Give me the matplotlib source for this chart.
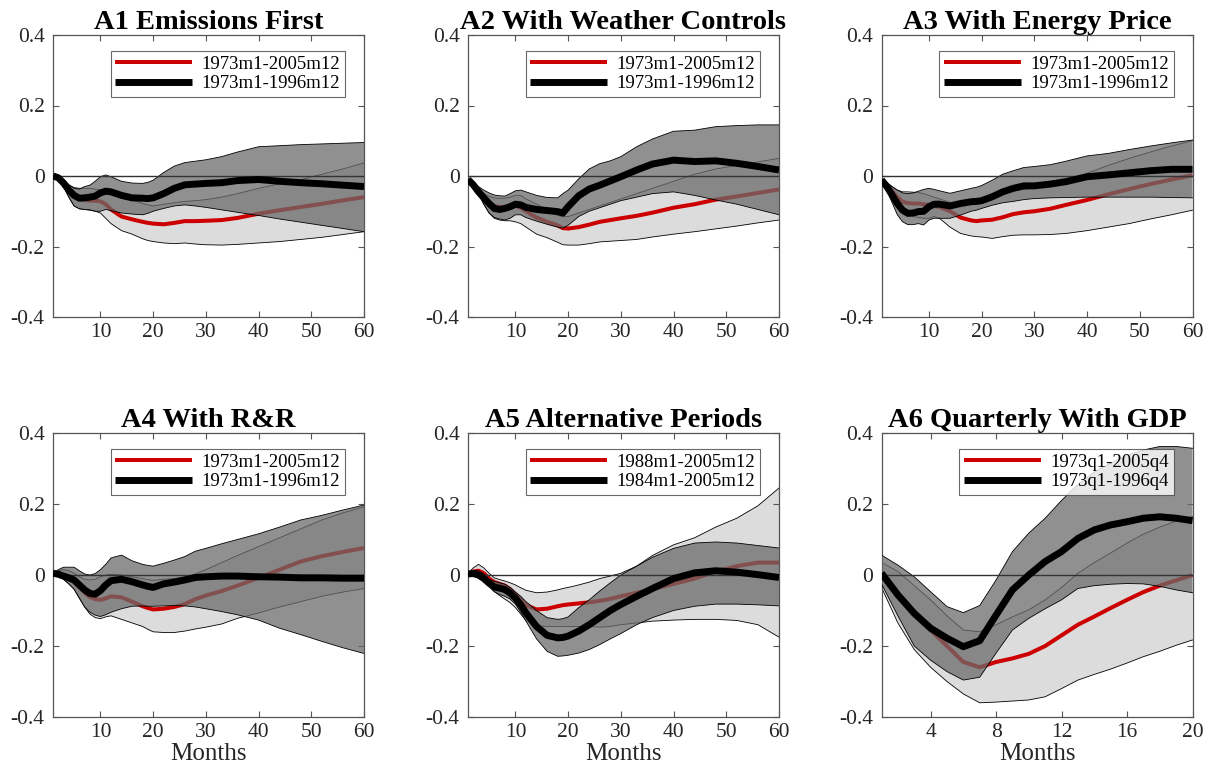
import matplotlib
matplotlib.use("Agg")
import matplotlib.pyplot as plt
from matplotlib.lines import Line2D

plt.rcParams['font.family'] = ['Liberation Serif', 'DejaVu Serif']

# ---------------- data ----------------
months = [1, 2, 3, 4, 5, 6, 7, 8, 9, 10, 11, 12, 14, 16, 18, 19, 20, 22, 24, 26,
          28, 30, 33, 36, 40, 44, 48, 52, 56, 60]
quarters = list(range(1, 21))

titles = ["A1 Emissions First", "A2 With Weather Controls", "A3 With Energy Price",
          "A4 With R&R", "A5 Alternative Periods", "A6 Quarterly With GDP"]
red_labels = ["1973m1-2005m12", "1973m1-2005m12", "1973m1-2005m12",
              "1973m1-2005m12", "1988m1-2005m12", "1973q1-2005q4"]
black_labels = ["1973m1-1996m12", "1973m1-1996m12", "1973m1-1996m12",
                "1973m1-1996m12", "1984m1-2005m12", "1973q1-1996q4"]
yticks = [-0.4, -0.2, 0, 0.2, 0.4]
ytick_labels = ["-0.4", "-0.2", "0", "0.2", "0.4"]
xticks_m = [10, 20, 30, 40, 50, 60]
xticks_q = [4, 8, 12, 16, 20]

# A1
a1_black = [0, -0.005, -0.02, -0.04, -0.055, -0.063, -0.062, -0.06, -0.057, -0.048, -0.043, -0.045, -0.055, -0.062, -0.063, -0.064, -0.062, -0.05, -0.035, -0.025, -0.023, -0.021, -0.019, -0.013, -0.01, -0.015, -0.019, -0.022, -0.026, -0.03]
a1_red = [0, -0.005, -0.02, -0.04, -0.055, -0.065, -0.068, -0.07, -0.07, -0.072, -0.08, -0.095, -0.115, -0.123, -0.13, -0.133, -0.135, -0.137, -0.133, -0.128, -0.128, -0.127, -0.125, -0.119, -0.107, -0.097, -0.088, -0.079, -0.069, -0.06]
a1_black_hi = [0, -0.002, -0.01, -0.025, -0.035, -0.037, -0.03, -0.026, -0.015, -0.002, 0.003, -0.002, -0.015, -0.02, -0.021, -0.018, -0.012, 0.01, 0.028, 0.038, 0.042, 0.046, 0.055, 0.068, 0.083, 0.086, 0.089, 0.091, 0.093, 0.095]
a1_black_lo = [0, -0.008, -0.03, -0.06, -0.085, -0.093, -0.095, -0.096, -0.1, -0.1, -0.095, -0.098, -0.105, -0.108, -0.11, -0.106, -0.1, -0.092, -0.085, -0.082, -0.085, -0.089, -0.096, -0.103, -0.112, -0.122, -0.131, -0.14, -0.149, -0.158]
a1_red_hi = [0, -0.003, -0.012, -0.025, -0.033, -0.035, -0.035, -0.035, -0.037, -0.04, -0.045, -0.05, -0.06, -0.068, -0.078, -0.082, -0.085, -0.08, -0.076, -0.072, -0.07, -0.067, -0.06, -0.05, -0.035, -0.022, -0.01, 0.005, 0.02, 0.037]
a1_red_lo = [0, -0.008, -0.03, -0.06, -0.085, -0.093, -0.095, -0.097, -0.1, -0.105, -0.12, -0.135, -0.155, -0.165, -0.178, -0.183, -0.186, -0.19, -0.192, -0.19, -0.193, -0.195, -0.196, -0.194, -0.19, -0.186, -0.18, -0.174, -0.166, -0.158]

# A2
a2_black = [-0.01, -0.025, -0.045, -0.062, -0.078, -0.092, -0.095, -0.092, -0.087, -0.08, -0.082, -0.089, -0.095, -0.098, -0.101, -0.105, -0.087, -0.056, -0.037, -0.026, -0.014, -0.002, 0.017, 0.034, 0.045, 0.041, 0.043, 0.036, 0.027, 0.017]
a2_red = [-0.01, -0.025, -0.045, -0.062, -0.075, -0.085, -0.088, -0.088, -0.088, -0.085, -0.09, -0.1, -0.118, -0.13, -0.14, -0.148, -0.149, -0.145, -0.138, -0.13, -0.125, -0.12, -0.113, -0.104, -0.09, -0.08, -0.067, -0.058, -0.048, -0.038]
a2_black_hi = [-0.01, -0.02, -0.03, -0.04, -0.048, -0.054, -0.056, -0.057, -0.05, -0.042, -0.04, -0.045, -0.055, -0.061, -0.062, -0.05, -0.04, -0.008, 0.02, 0.035, 0.043, 0.055, 0.083, 0.105, 0.127, 0.13, 0.14, 0.143, 0.145, 0.145]
a2_black_lo = [-0.01, -0.025, -0.05, -0.08, -0.105, -0.118, -0.122, -0.125, -0.12, -0.11, -0.11, -0.118, -0.128, -0.137, -0.145, -0.148, -0.14, -0.115, -0.1, -0.09, -0.08, -0.07, -0.06, -0.05, -0.045, -0.055, -0.068, -0.08, -0.095, -0.11]
a2_red_hi = [-0.01, -0.02, -0.035, -0.05, -0.058, -0.062, -0.063, -0.063, -0.06, -0.055, -0.055, -0.065, -0.08, -0.095, -0.112, -0.115, -0.115, -0.105, -0.095, -0.085, -0.075, -0.065, -0.05, -0.035, -0.015, 0.005, 0.02, 0.03, 0.04, 0.05]
a2_red_lo = [-0.01, -0.025, -0.05, -0.08, -0.105, -0.12, -0.125, -0.127, -0.127, -0.13, -0.135, -0.145, -0.165, -0.175, -0.188, -0.195, -0.196, -0.196, -0.192, -0.187, -0.185, -0.183, -0.18, -0.173, -0.165, -0.158, -0.15, -0.142, -0.133, -0.125]

# A3
a3_black = [-0.011, -0.03, -0.054, -0.078, -0.097, -0.106, -0.105, -0.101, -0.1, -0.087, -0.08, -0.08, -0.085, -0.078, -0.073, -0.072, -0.07, -0.059, -0.045, -0.035, -0.028, -0.028, -0.023, -0.016, -0.002, 0.003, 0.009, 0.015, 0.019, 0.019]
a3_red = [-0.011, -0.025, -0.042, -0.06, -0.073, -0.077, -0.078, -0.078, -0.08, -0.082, -0.085, -0.088, -0.1, -0.118, -0.126, -0.128, -0.126, -0.124, -0.117, -0.108, -0.103, -0.1, -0.093, -0.082, -0.068, -0.052, -0.037, -0.023, -0.01, 0.002]
a3_black_hi = [-0.01, -0.018, -0.03, -0.04, -0.048, -0.05, -0.048, -0.043, -0.038, -0.035, -0.038, -0.042, -0.049, -0.042, -0.035, -0.032, -0.027, -0.012, 0.005, 0.015, 0.024, 0.027, 0.032, 0.042, 0.057, 0.064, 0.075, 0.085, 0.094, 0.102]
a3_black_lo = [-0.01, -0.04, -0.075, -0.11, -0.13, -0.138, -0.138, -0.135, -0.139, -0.125, -0.12, -0.12, -0.12, -0.111, -0.1, -0.097, -0.092, -0.083, -0.076, -0.072, -0.067, -0.064, -0.062, -0.061, -0.06, -0.06, -0.06, -0.06, -0.061, -0.062]
a3_red_hi = [-0.01, -0.02, -0.03, -0.04, -0.045, -0.045, -0.046, -0.047, -0.05, -0.055, -0.06, -0.065, -0.075, -0.08, -0.072, -0.067, -0.062, -0.055, -0.048, -0.042, -0.038, -0.033, -0.025, -0.012, 0.008, 0.03, 0.05, 0.068, 0.085, 0.1]
a3_red_lo = [-0.01, -0.03, -0.055, -0.08, -0.1, -0.11, -0.115, -0.118, -0.12, -0.12, -0.115, -0.12, -0.145, -0.163, -0.17, -0.172, -0.173, -0.177, -0.172, -0.168, -0.167, -0.167, -0.166, -0.163, -0.155, -0.145, -0.135, -0.122, -0.11, -0.097]

# A4
a4_black = [0.005, 0.002, -0.003, -0.008, -0.014, -0.028, -0.042, -0.052, -0.054, -0.044, -0.028, -0.016, -0.012, -0.019, -0.028, -0.032, -0.035, -0.025, -0.02, -0.014, -0.007, -0.005, -0.003, -0.003, -0.005, -0.006, -0.008, -0.008, -0.009, -0.009]
a4_red = [0.005, 0.002, -0.005, -0.012, -0.02, -0.035, -0.05, -0.062, -0.068, -0.07, -0.066, -0.06, -0.063, -0.075, -0.088, -0.093, -0.097, -0.095, -0.09, -0.082, -0.068, -0.058, -0.045, -0.03, -0.008, 0.015, 0.038, 0.053, 0.065, 0.076]
a4_black_hi = [0.005, 0.015, 0.022, 0.022, 0.022, 0.012, 0.003, 0.0, 0.004, 0.015, 0.03, 0.048, 0.056, 0.04, 0.03, 0.027, 0.025, 0.033, 0.042, 0.052, 0.067, 0.075, 0.088, 0.1, 0.116, 0.135, 0.155, 0.168, 0.183, 0.197]
a4_black_lo = [0.005, 0.0, -0.012, -0.025, -0.04, -0.065, -0.09, -0.105, -0.113, -0.117, -0.112, -0.105, -0.095, -0.088, -0.087, -0.088, -0.088, -0.087, -0.086, -0.087, -0.09, -0.095, -0.103, -0.112, -0.127, -0.15, -0.168, -0.187, -0.205, -0.221]
a4_red_hi = [0.005, 0.012, 0.015, 0.012, 0.005, -0.005, -0.012, -0.014, -0.012, -0.005, 0.0, 0.002, 0.0, -0.005, -0.01, -0.013, -0.015, -0.012, -0.01, -0.005, 0.003, 0.015, 0.035, 0.055, 0.08, 0.105, 0.13, 0.155, 0.175, 0.192]
a4_red_lo = [0.005, 0.0, -0.012, -0.025, -0.04, -0.065, -0.09, -0.11, -0.12, -0.123, -0.118, -0.115, -0.125, -0.135, -0.145, -0.153, -0.16, -0.162, -0.162, -0.158, -0.152, -0.147, -0.138, -0.122, -0.107, -0.09, -0.075, -0.06, -0.048, -0.038]

# A5
a5_black = [0.003, 0.004, 0.0, -0.01, -0.023, -0.034, -0.037, -0.041, -0.051, -0.065, -0.084, -0.107, -0.145, -0.17, -0.177, -0.176, -0.172, -0.158, -0.14, -0.12, -0.1, -0.083, -0.06, -0.038, -0.01, 0.006, 0.012, 0.008, 0.001, -0.007]
a5_red = [0.003, 0.01, 0.012, 0.005, -0.01, -0.02, -0.025, -0.03, -0.04, -0.055, -0.07, -0.085, -0.097, -0.095, -0.088, -0.085, -0.083, -0.08, -0.077, -0.073, -0.067, -0.06, -0.05, -0.04, -0.025, -0.01, 0.01, 0.025, 0.035, 0.035]
a5_black_hi = [0.005, 0.012, 0.012, 0.003, -0.012, -0.018, -0.022, -0.026, -0.035, -0.048, -0.06, -0.075, -0.1, -0.12, -0.125, -0.123, -0.118, -0.092, -0.07, -0.045, -0.022, 0.0, 0.025, 0.05, 0.075, 0.09, 0.093, 0.09, 0.083, 0.076]
a5_black_lo = [0.003, -0.003, -0.008, -0.018, -0.032, -0.047, -0.055, -0.06, -0.068, -0.082, -0.105, -0.13, -0.18, -0.215, -0.229, -0.228, -0.226, -0.22, -0.21, -0.196, -0.18, -0.165, -0.14, -0.12, -0.1, -0.088, -0.082, -0.082, -0.084, -0.087]
a5_red_hi = [0.005, 0.02, 0.03, 0.02, 0.005, -0.008, -0.013, -0.017, -0.022, -0.028, -0.036, -0.043, -0.05, -0.048, -0.042, -0.038, -0.035, -0.028, -0.02, -0.01, -0.003, 0.005, 0.025, 0.055, 0.085, 0.105, 0.135, 0.16, 0.195, 0.245]
a5_red_lo = [0.003, -0.003, -0.008, -0.018, -0.032, -0.047, -0.058, -0.068, -0.078, -0.092, -0.11, -0.128, -0.143, -0.145, -0.145, -0.145, -0.145, -0.145, -0.145, -0.147, -0.145, -0.14, -0.135, -0.13, -0.127, -0.125, -0.125, -0.128, -0.14, -0.175]

# A6 (quarterly)
a6_black = [0.005, -0.056, -0.108, -0.15, -0.178, -0.202, -0.185, -0.113, -0.042, 0.0, 0.038, 0.066, 0.103, 0.127, 0.141, 0.15, 0.16, 0.164, 0.16, 0.153]
a6_red = [-0.003, -0.055, -0.105, -0.155, -0.2, -0.245, -0.26, -0.245, -0.235, -0.222, -0.2, -0.17, -0.14, -0.117, -0.093, -0.07, -0.048, -0.03, -0.015, 0.0]
a6_black_hi = [0.056, 0.028, -0.005, -0.047, -0.089, -0.106, -0.086, -0.014, 0.066, 0.118, 0.16, 0.21, 0.255, 0.29, 0.315, 0.337, 0.352, 0.362, 0.362, 0.357]
a6_black_lo = [-0.025, -0.115, -0.2, -0.24, -0.272, -0.296, -0.288, -0.22, -0.155, -0.122, -0.095, -0.07, -0.038, -0.03, -0.026, -0.024, -0.025, -0.032, -0.042, -0.05]
a6_red_hi = [0.035, 0.01, -0.03, -0.07, -0.115, -0.155, -0.16, -0.14, -0.118, -0.098, -0.07, -0.035, 0.005, 0.035, 0.062, 0.09, 0.115, 0.135, 0.152, 0.165]
a6_red_lo = [-0.035, -0.135, -0.21, -0.26, -0.3, -0.335, -0.36, -0.358, -0.355, -0.352, -0.343, -0.32, -0.296, -0.28, -0.265, -0.248, -0.23, -0.215, -0.198, -0.183]

panels = [
    (months, a1_red, a1_red_lo, a1_red_hi, a1_black, a1_black_lo, a1_black_hi, xticks_m),
    (months, a2_red, a2_red_lo, a2_red_hi, a2_black, a2_black_lo, a2_black_hi, xticks_m),
    (months, a3_red, a3_red_lo, a3_red_hi, a3_black, a3_black_lo, a3_black_hi, xticks_m),
    (months, a4_red, a4_red_lo, a4_red_hi, a4_black, a4_black_lo, a4_black_hi, xticks_m),
    (months, a5_red, a5_red_lo, a5_red_hi, a5_black, a5_black_lo, a5_black_hi, xticks_m),
    (quarters, a6_red, a6_red_lo, a6_red_hi, a6_black, a6_black_lo, a6_black_hi, xticks_q),
]

# ---------------- styling ----------------
RED = '#cc0000'
LIGHT = '#dcdcdc'
DARK = '#6b6b6b'
SPINE = '#555555'
TXT = '#262626'

W, H = 1215, 770
fig = plt.figure(figsize=(W / 100, H / 100), dpi=100)

lefts = [53, 468, 881.5]
width = 311
rows = [(35, 317), (433, 717)]

for i, (x, r, rlo, rhi, b, blo, bhi, xt) in enumerate(panels):
    row, col = divmod(i, 3)
    top, bot = rows[row]
    ax = fig.add_axes([lefts[col] / W, 1 - bot / H, width / W, (bot - top) / H])

    # light band (red series CI)
    ax.fill_between(x, rlo, rhi, facecolor=LIGHT, edgecolor='none', zorder=1)
    ax.plot(x, rlo, color='black', lw=0.6, zorder=1.1)
    ax.plot(x, rhi, color='black', lw=0.6, zorder=1.1)
    # red response
    ax.plot(x, r, color=RED, lw=2.9, zorder=2, solid_capstyle='butt')
    # dark band (black series CI), translucent
    ax.fill_between(x, blo, bhi, facecolor=DARK, alpha=0.75, edgecolor='none', zorder=3)
    ax.plot(x, blo, color='black', lw=0.6, zorder=3.1)
    ax.plot(x, bhi, color='black', lw=0.6, zorder=3.1)
    # zero line
    ax.axhline(0, color='#333333', lw=1.0, zorder=3.5)
    # black response
    ax.plot(x, b, color='black', lw=5.0, zorder=4, solid_capstyle='butt')

    ax.set_xlim(x[0], x[-1])
    ax.set_ylim(-0.4, 0.4)
    ax.set_yticks(yticks)
    ax.set_yticklabels(ytick_labels)
    ax.set_xticks(xt)
    ax.set_xticklabels([str(v) for v in xt])
    ax.tick_params(direction='in', length=4, width=0.8, color=SPINE,
                   labelcolor=TXT, labelsize=15.5, top=True, right=True)
    ax.tick_params(axis='y', pad=6)
    ax.tick_params(axis='x', pad=4)
    for s in ax.spines.values():
        s.set_color(SPINE)
        s.set_linewidth(0.9)

    ax.set_title(titles[i], fontsize=20.5, fontweight='bold', color='black', pad=4)
    if row == 1:
        ax.set_xlabel('Months', fontsize=18, color=TXT, labelpad=1)

    handles = [Line2D([], [], color=RED, lw=2.9, solid_capstyle='butt'),
               Line2D([], [], color='black', lw=5.0, solid_capstyle='butt')]
    leg = ax.legend(handles, [red_labels[i], black_labels[i]], loc='upper right',
                    bbox_to_anchor=(0.939, 0.943), borderaxespad=0, fontsize=13.5,
                    frameon=True, fancybox=False, handlelength=4.1, handletextpad=0.5,
                    labelspacing=0.12, borderpad=0.25)
    leg.get_frame().set_edgecolor('#444444')
    leg.get_frame().set_linewidth(0.8)
    leg.set_zorder(10)

fig.savefig('out.png', dpi=100)
